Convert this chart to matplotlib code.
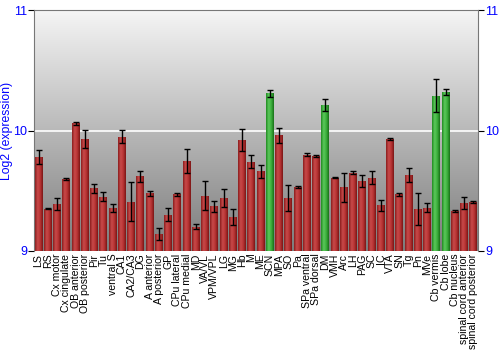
import matplotlib
matplotlib.use("Agg")
import matplotlib.pyplot as plt
import numpy as np
from matplotlib.colors import LinearSegmentedColormap

plt.rcParams['font.family'] = ['Liberation Sans', 'DejaVu Sans']

categories = ["LS", "RS", "Cx motor", "Cx cingulate", "OB anterior", "OB posterior", "Pir", "Tu",
              "ventral S", "CA1", "CA2/CA3", "DG", "A anterior", "A posterior", "GP", "CPu lateral",
              "CPu medial", "MD", "VA/VL", "VPM/VPL", "LG", "MG", "Hb", "M", "ME", "SCN", "MPA",
              "SO", "Pa", "SPa ventral", "SPa dorsal", "DM", "VMH", "Arc", "LH", "PAG", "SC", "IC",
              "VTA", "SN", "Tg", "Pn", "MVe", "Cb vermis", "Cb lobe", "Cb nucleus",
              "spinal cord anterior", "spinal cord posterior"]
values = [9.78, 9.35, 9.39, 9.60, 10.06, 9.93, 9.52, 9.45,
          9.36, 9.95, 9.41, 9.62, 9.48, 9.14, 9.30, 9.47,
          9.75, 9.20, 9.46, 9.37, 9.44, 9.28, 9.92, 9.74, 9.66, 10.31, 9.96,
          9.44, 9.53, 9.80, 9.79, 10.21, 9.61, 9.53, 9.65, 9.58, 9.61, 9.38,
          9.93, 9.47, 9.63, 9.35, 9.36, 10.29, 10.32, 9.33,
          9.40, 9.41]
errors = [0.055, 0.005, 0.05, 0.01, 0.01, 0.075, 0.04, 0.037,
          0.033, 0.055, 0.16, 0.045, 0.02, 0.05, 0.054, 0.01,
          0.10, 0.02, 0.12, 0.045, 0.077, 0.066, 0.09, 0.054, 0.05, 0.03, 0.06,
          0.11, 0.01, 0.01, 0.01, 0.05, 0.005, 0.12, 0.01, 0.05, 0.058, 0.047,
          0.005, 0.01, 0.055, 0.135, 0.039, 0.14, 0.028, 0.008,
          0.05, 0.008]
highlight = ["SCN", "DM", "Cb vermis", "Cb lobe"]
yticks = [9, 10, 11]

fig = plt.figure(figsize=(5, 3.5), dpi=100)
ax = fig.add_axes([0.068, 0.283, 0.888, 0.688])
n = len(categories)

# background gradient
bg = LinearSegmentedColormap.from_list("bg", ["#7c7c7c", "#f5f5f5"])
grad = np.linspace(0, 1, 256).reshape(-1, 1)
ax.imshow(grad, aspect="auto", cmap=bg, origin="lower",
          extent=[-0.5, n - 0.5, 9, 11], zorder=0)

ax.axhline(10, color="white", lw=1.2, zorder=1)

red_cmap = LinearSegmentedColormap.from_list("r", ["#8a1c1c", "#c84a4a", "#b83333", "#7a1515"])
green_cmap = LinearSegmentedColormap.from_list("g", ["#1f8a1f", "#5cc85c", "#3cb03c", "#187018"])
hgrad = np.linspace(0, 1, 64).reshape(1, -1)

x = np.arange(n)
bars = ax.bar(x, [v - 9 for v in values], bottom=9, width=0.85, color="none",
              edgecolor="none", zorder=2)
for b, cat in zip(bars, categories):
    cmap = green_cmap if cat in highlight else red_cmap
    x0, y0 = b.get_x(), b.get_y()
    w, h = b.get_width(), b.get_height()
    im = ax.imshow(hgrad, aspect="auto", cmap=cmap, extent=[x0, x0 + w, y0, y0 + h],
                   zorder=2, interpolation="bilinear")
    im.set_clip_path(b)

ax.errorbar(x, values, yerr=errors, fmt="none", ecolor="black", elinewidth=1,
            capsize=2, capthick=1, zorder=3)

ax.set_xlim(-0.5, n - 0.5)
ax.set_ylim(9, 11)
ax.set_xticks(x)
ax.set_xticklabels(categories, rotation=90, fontsize=7.6)
ax.tick_params(axis="x", length=0, pad=2)
ax.set_yticks(yticks)
ax.set_yticklabels([str(t) for t in yticks])
ax.tick_params(axis="y", colors="black", labelcolor="blue", labelsize=9, length=4,
               pad=1, right=True, labelright=True, left=True)
ax.set_ylabel("Log2 (expression)", color="blue", fontsize=8.8)
ax.yaxis.set_label_coords(-0.048, 0.5)

for s in ["left", "right", "top"]:
    ax.spines[s].set_color("#777777")
ax.spines["bottom"].set_visible(False)

fig.savefig("out.png", dpi=100)
